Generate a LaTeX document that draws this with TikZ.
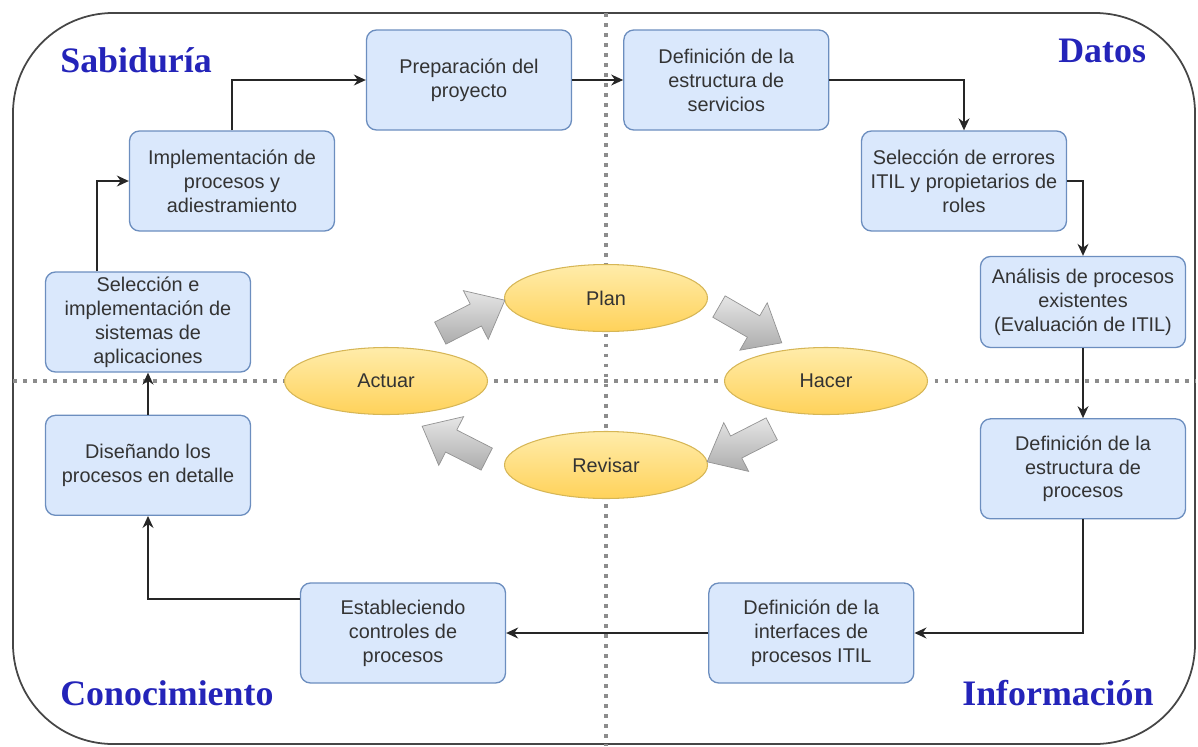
\documentclass[tikz,border=0pt]{standalone}
\usepackage{fontspec}
\setsansfont{Liberation Sans}
\newfontfamily\fuentetitulo{Liberation Serif}
\usepackage{tikz}
\usetikzlibrary{arrows.meta,positioning,calc,shapes.geometric,shapes.arrows}
\definecolor{azulcaja}{RGB}{218,232,252}
\definecolor{azulborde}{RGB}{108,142,191}
\definecolor{amarillo}{RGB}{255,210,90}
\definecolor{amarilloclaro}{RGB}{255,236,170}
\definecolor{ocre}{RGB}{214,182,86}
\definecolor{texto}{RGB}{51,51,51}
\definecolor{azultitulo}{RGB}{36,36,185}
\definecolor{marco}{RGB}{70,70,70}

\begin{document}
\begin{tikzpicture}[
caja/.style={draw=azulborde,line width=0.75pt,rounded corners=2mm,fill=azulcaja,minimum width=4.1cm,minimum height=2cm,align=center,text=texto,font=\sffamily\fontsize{11.3}{13.6}\selectfont,inner sep=2pt},
elipse/.style={ellipse,draw=ocre,line width=0.6pt,top color=amarilloclaro,bottom color=amarillo,minimum width=4.06cm,minimum height=1.34cm,text=texto,font=\sffamily\fontsize{11.3}{13.6}\selectfont},
flecha/.style={single arrow,draw=gray!85,top color=gray!20,bottom color=gray!65,minimum height=1.45cm,inner sep=0.24cm,single arrow head extend=0.3cm,single arrow tip angle=80},
flujo/.style={-{Stealth[length=2.4mm,width=2.2mm]},line width=0.8pt,draw=black!85},
division/.style={draw=black!45,line width=2pt,dash pattern=on 2.2pt off 3.5pt},
titulo/.style={anchor=base west,inner sep=0pt,text=azultitulo,font=\fuentetitulo\bfseries\fontsize{20.4}{24}\selectfont}
]
\useasboundingbox (0,0) rectangle (23.96,-14.92);

% marco y cuadrantes
\draw[marco,line width=1pt,rounded corners=2cm] (0.26,-0.26) rectangle (23.9,-14.88);
\coordinate (centro) at (12.12,-7.62);
\draw[division] (12.12,-0.26) -- (12.12,-14.92);
\draw[division] (0.26,-7.62) -- (23.9,-7.62);

\node[titulo] (sabiduria) at (1.2,-1.44) {Sabiduría};
\node[titulo] (datos) at (21.16,-1.24) {Datos};
\node[titulo] (conocimiento) at (1.2,-14.1) {Conocimiento};
\node[titulo] (informacion) at (19.24,-14.1) {Información};

% etapas
\node[caja] (prep) at (9.38,-1.6) {Preparación del\\proyecto};
\node[caja,right=1.02cm of prep] (serv) {Definición de la\\estructura de\\servicios};
\node[caja] (impl) at (4.64,-3.62) {Implementación de\\procesos y\\adiestramiento};
\node[caja] (err) at (19.28,-3.62) {Selección de errores\\ITIL y propietarios de\\roles};
\node[caja] (sel) at (2.96,-6.44) {Selección e\\implementación de\\sistemas de\\aplicaciones};
\node[caja,minimum height=1.82cm] (anal) at (21.66,-6.04) {Análisis de procesos\\existentes\\(Evaluación de ITIL)};
\node[caja,below=0.84cm of sel] (dis) {Diseñando los\\procesos en detalle};
\node[caja,below=1.4cm of anal] (defp) {Definición de la\\estructura de\\procesos};
\node[caja] (est) at (8.06,-12.66) {Estableciendo\\controles de\\procesos};
\node[caja,right=4.04cm of est] (intf) {Definición de la\\interfaces de\\procesos ITIL};

% ciclo PHVA
\node[elipse] (plan) at ($(centro)+(0,1.66)$) {Plan};
\node[elipse] (actuar) at ($(centro)+(-4.4,0)$) {Actuar};
\node[elipse] (hacer) at ($(centro)+(4.4,0)$) {Hacer};
\node[elipse] (revisar) at ($(centro)+(0,-1.68)$) {Revisar};
\node[flecha,rotate=27] (f1) at ($(centro)+(-2.8,1.22)$) {};
\node[flecha,rotate=-30] (f2) at ($(centro)+(2.76,1.2)$) {};
\node[flecha,rotate=207] (f3) at ($(centro)+(2.8,-1.22)$) {};
\node[flecha,rotate=153] (f4) at ($(centro)+(-2.9,-1.3)$) {};

\draw[flujo] (impl.north) |- (prep.west);
\draw[flujo] (prep) -- (serv);
\draw[flujo] (serv.east) -| (err.north);
\draw[flujo] (err.east) -| (anal.north);
\draw[flujo] (anal) -- (defp);
\draw[flujo] (defp.south) |- (intf.east);
\draw[flujo] (intf) -- (est);
\draw[flujo] ([yshift=6.8mm]est.west) -| (dis.south);
\draw[flujo] (dis) -- (sel);
\draw[flujo] ([xshift=-10.2mm]sel.north) |- (impl.west);
\end{tikzpicture}
\end{document}
